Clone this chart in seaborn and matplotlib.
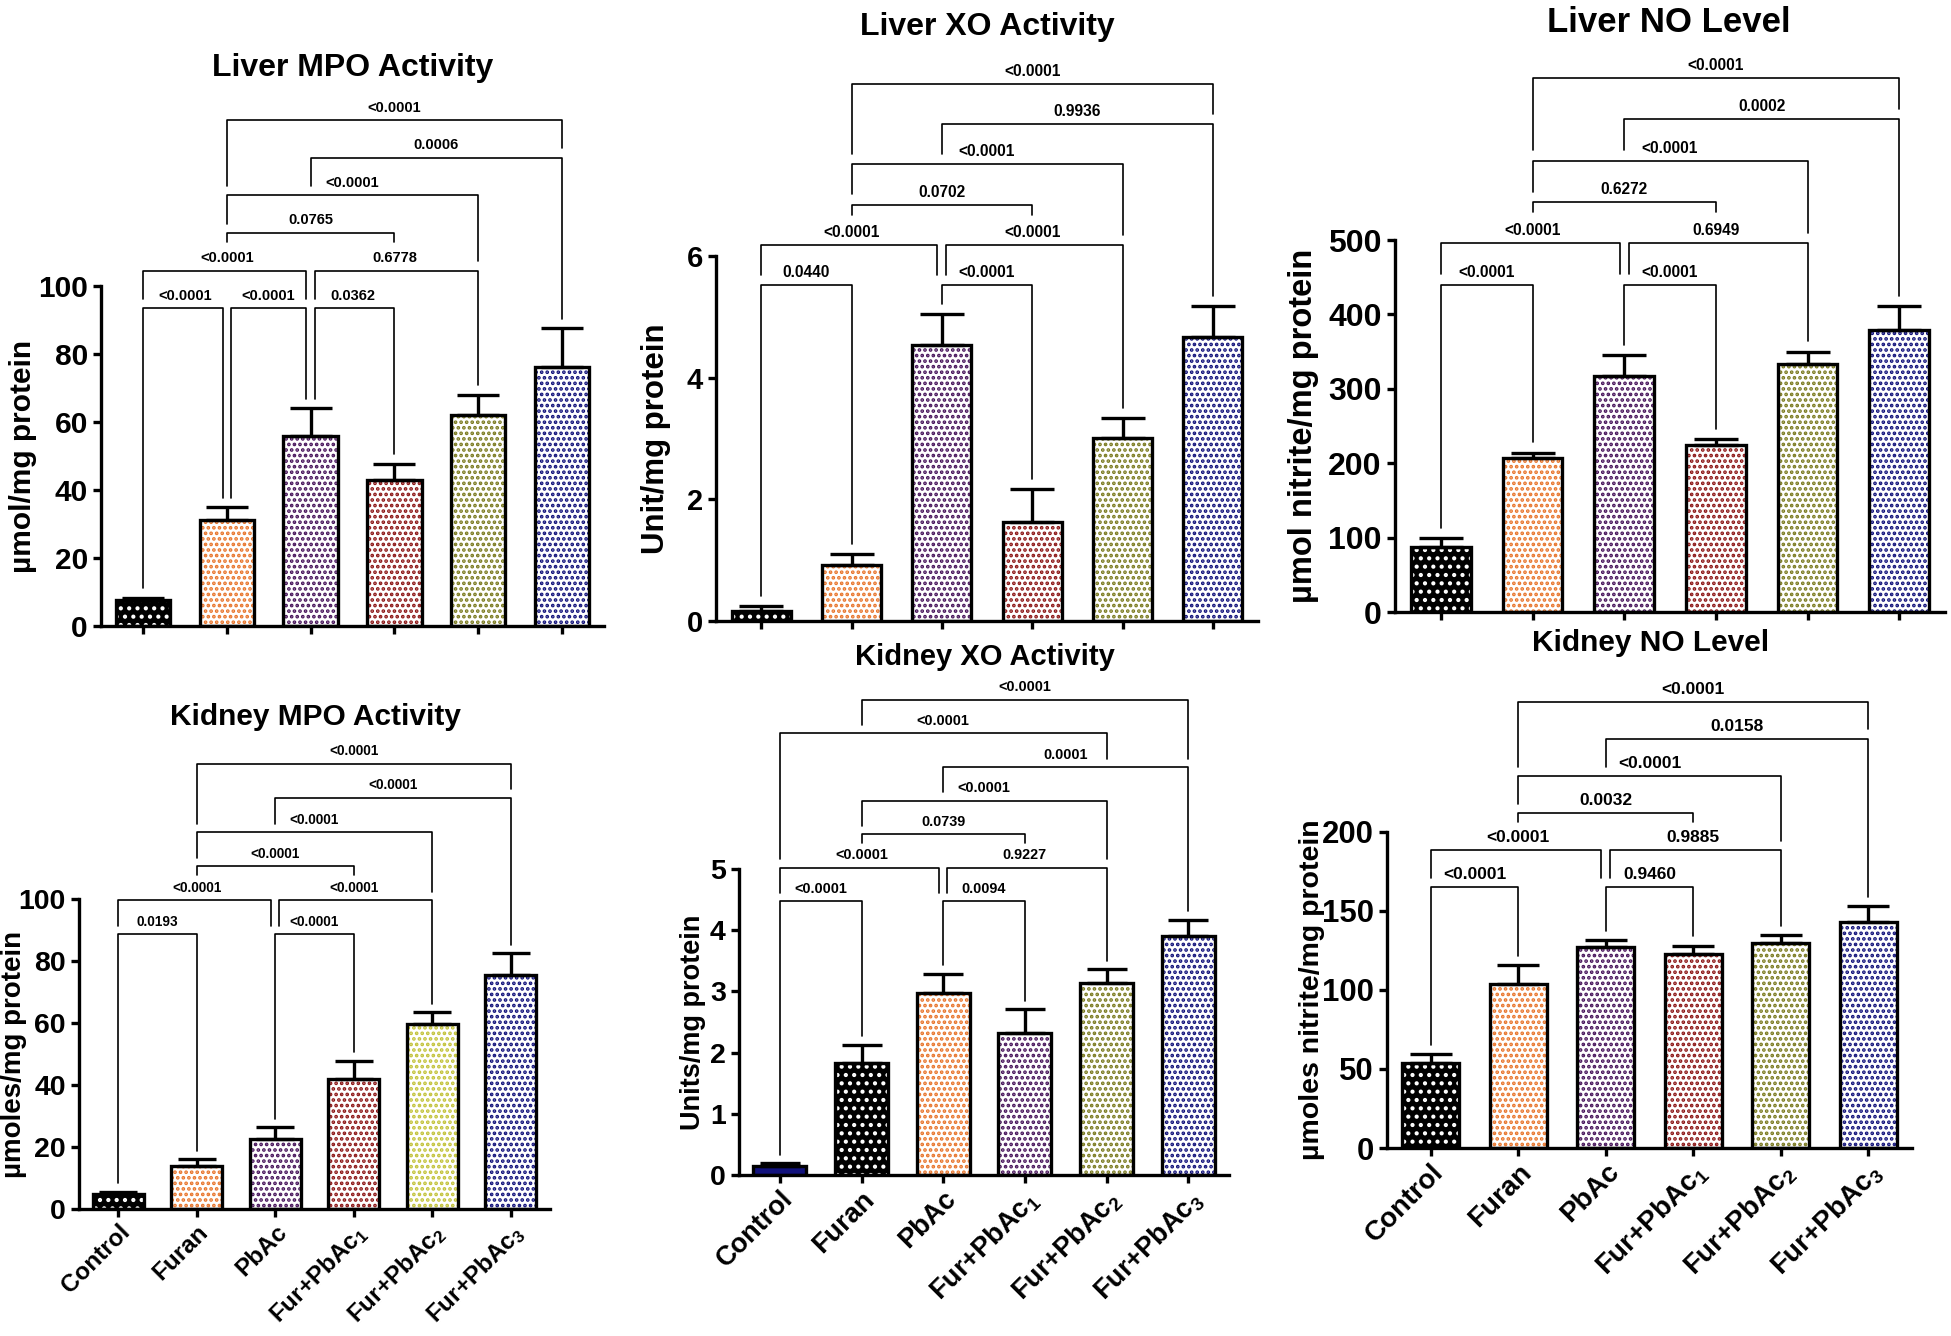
import numpy as np
import pandas as pd
import matplotlib
matplotlib.use("Agg")
import matplotlib.pyplot as plt
import seaborn as sns

# groups and their printed labels
groups = ["Control", "Furan", "PbAc", "Fur+PbAc1", "Fur+PbAc2", "Fur+PbAc3"]
tick_labels = ["Control", "Furan", "PbAc", "Fur+PbAc$_1$", "Fur+PbAc$_2$", "Fur+PbAc$_3$"]

# values (mean and SEM)
liver_mpo_mean = [7.7, 31.3, 56.0, 42.9, 62.1, 76.2]
liver_mpo_sem = [0.6, 3.7, 8.1, 4.8, 5.9, 11.4]
liver_xo_mean = [0.16, 0.92, 4.54, 1.63, 3.01, 4.67]
liver_xo_sem = [0.08, 0.18, 0.50, 0.54, 0.33, 0.50]
liver_no_mean = [87, 207, 317, 225, 333, 379]
liver_no_sem = [12, 7, 28, 7, 17, 32]
kidney_mpo_mean = [4.7, 14.0, 22.6, 41.8, 59.6, 75.4]
kidney_mpo_sem = [0.9, 2.0, 3.7, 6.1, 3.8, 7.1]
kidney_xo_mean = [0.15, 1.83, 2.97, 2.32, 3.13, 3.91]
kidney_xo_sem = [0.04, 0.30, 0.32, 0.39, 0.23, 0.26]
kidney_no_mean = [54.1, 103.8, 127.2, 123.0, 130.0, 143.2]
kidney_no_sem = [5.3, 11.8, 4.5, 5.0, 4.8, 10.0]

# multiple comparison p values
liver_mpo_tests = [("Control", "Furan", "<0.0001"), ("Furan", "PbAc", "<0.0001"),
                   ("PbAc", "Fur+PbAc1", "0.0362"), ("Control", "PbAc", "<0.0001"),
                   ("PbAc", "Fur+PbAc2", "0.6778"), ("Furan", "Fur+PbAc1", "0.0765"),
                   ("Furan", "Fur+PbAc2", "<0.0001"), ("PbAc", "Fur+PbAc3", "0.0006"),
                   ("Furan", "Fur+PbAc3", "<0.0001")]
liver_xo_tests = [("Control", "Furan", "0.0440"), ("PbAc", "Fur+PbAc1", "<0.0001"),
                  ("Control", "PbAc", "<0.0001"), ("PbAc", "Fur+PbAc2", "<0.0001"),
                  ("Furan", "Fur+PbAc1", "0.0702"), ("Furan", "Fur+PbAc2", "<0.0001"),
                  ("PbAc", "Fur+PbAc3", "0.9936"), ("Furan", "Fur+PbAc3", "<0.0001")]
liver_no_tests = [("Control", "Furan", "<0.0001"), ("PbAc", "Fur+PbAc1", "<0.0001"),
                  ("Control", "PbAc", "<0.0001"), ("PbAc", "Fur+PbAc2", "0.6949"),
                  ("Furan", "Fur+PbAc1", "0.6272"), ("Furan", "Fur+PbAc2", "<0.0001"),
                  ("PbAc", "Fur+PbAc3", "0.0002"), ("Furan", "Fur+PbAc3", "<0.0001")]
kidney_mpo_tests = [("Control", "Furan", "0.0193"), ("PbAc", "Fur+PbAc1", "<0.0001"),
                    ("Control", "PbAc", "<0.0001"), ("PbAc", "Fur+PbAc2", "<0.0001"),
                    ("Furan", "Fur+PbAc1", "<0.0001"), ("Furan", "Fur+PbAc2", "<0.0001"),
                    ("PbAc", "Fur+PbAc3", "<0.0001"), ("Furan", "Fur+PbAc3", "<0.0001")]
kidney_xo_tests = [("Control", "Furan", "<0.0001"), ("PbAc", "Fur+PbAc1", "0.0094"),
                   ("Control", "PbAc", "<0.0001"), ("PbAc", "Fur+PbAc2", "0.9227"),
                   ("Furan", "Fur+PbAc1", "0.0739"), ("Furan", "Fur+PbAc2", "<0.0001"),
                   ("PbAc", "Fur+PbAc3", "0.0001"), ("Control", "Fur+PbAc2", "<0.0001"),
                   ("Furan", "Fur+PbAc3", "<0.0001")]
kidney_no_tests = [("Control", "Furan", "<0.0001"), ("PbAc", "Fur+PbAc1", "0.9460"),
                   ("Control", "PbAc", "<0.0001"), ("PbAc", "Fur+PbAc2", "0.9885"),
                   ("Furan", "Fur+PbAc1", "0.0032"), ("Furan", "Fur+PbAc2", "<0.0001"),
                   ("PbAc", "Fur+PbAc3", "0.0158"), ("Furan", "Fur+PbAc3", "<0.0001")]

# bracket rows (stacking level of each comparison above)
rows_9 = [0, 0, 0, 1, 1, 2, 3, 4, 5]
rows_8 = [0, 0, 1, 1, 2, 3, 4, 5]
rows_kxo = [0, 0, 1, 1, 2, 3, 4, 5, 6]

# bar styles: (face, dot colour, hatch)
BLK = ("black", "white", "..")
ORA = ("white", "#e8742a", "...")
PUR = ("white", "#46125a", "...")
RED = ("white", "#8c1414", "...")
OLI = ("white", "#7a7a1e", "...")
YEL = ("white", "#c2c238", "...")
NAV = ("white", "#10107a", "...")
NAV_SOLID = ("#12127c", "#12127c", "")

W, H = 1951, 1336

sns.set_style("ticks")
plt.rcParams["font.family"] = ["Liberation Sans", "DejaVu Sans"]
plt.rcParams["font.weight"] = "bold"
plt.rcParams["mathtext.fontset"] = "custom"
plt.rcParams["mathtext.rm"] = "Liberation Sans:bold"
plt.rcParams["mathtext.bf"] = "Liberation Sans:bold"
plt.rcParams["mathtext.it"] = "Liberation Sans:bold"
plt.rcParams["mathtext.default"] = "bf"
plt.rcParams["hatch.linewidth"] = 1.8
plt.rcParams["axes.linewidth"] = 2.4
for key in ["axes.edgecolor", "text.color", "axes.labelcolor", "xtick.color", "ytick.color"]:
    plt.rcParams[key] = "black"

panels = [
    dict(title="Liver MPO Activity", ylabel="µmol/mg protein", mean=liver_mpo_mean, sem=liver_mpo_sem,
         tests=liver_mpo_tests, rows=rows_9, styles=[BLK, ORA, PUR, RED, OLI, NAV],
         box=(101, 286, 604, 626), title_xy=(353, 68), title_fs=23, tick_fs=21.5, ylab_fs=21.5,
         ylab_x=37, p_fs=10.5, ymax=100, ytick=20, base=93.5, step=11.05, xlab_fs=None),
    dict(title="Liver XO Activity", ylabel="Unit/mg protein", mean=liver_xo_mean, sem=liver_xo_sem,
         tests=liver_xo_tests, rows=rows_8, styles=[BLK, ORA, PUR, RED, OLI, NAV],
         box=(716, 256, 1258, 621), title_xy=(987, 27), title_fs=23, tick_fs=21, ylab_fs=22.5,
         ylab_x=671, p_fs=11.2, ymax=6, ytick=2, base=5.52, step=0.663, xlab_fs=None),
    dict(title="Liver NO Level", ylabel="µmol nitrite/mg protein", mean=liver_no_mean, sem=liver_no_sem,
         tests=liver_no_tests, rows=rows_8, styles=[BLK, ORA, PUR, RED, OLI, NAV],
         box=(1395, 240, 1945, 612), title_xy=(1669, 22), title_fs=25, tick_fs=23, ylab_fs=23.5,
         ylab_x=1319, p_fs=11.2, ymax=500, ytick=100, base=440, step=55.6, xlab_fs=None),
    dict(title="Kidney MPO Activity", ylabel="µmoles/mg protein", mean=kidney_mpo_mean, sem=kidney_mpo_sem,
         tests=kidney_mpo_tests, rows=rows_8, styles=[BLK, ORA, PUR, RED, YEL, NAV],
         box=(79, 899, 550, 1209), title_xy=(315, 717), title_fs=21.5, tick_fs=20.5, ylab_fs=20,
         ylab_x=27, p_fs=9.8, ymax=100, ytick=20, base=88.6, step=11.0, xlab_fs=17.5),
    dict(title="Kidney XO Activity", ylabel="Units/mg protein", mean=kidney_xo_mean, sem=kidney_xo_sem,
         tests=kidney_xo_tests, rows=rows_kxo, styles=[NAV_SOLID, BLK, ORA, PUR, OLI, NAV],
         box=(739, 869, 1229, 1175), title_xy=(985, 657), title_fs=21, tick_fs=20.5, ylab_fs=19.5,
         ylab_x=706, p_fs=10.4, ymax=5, ytick=1, base=4.47, step=0.549, xlab_fs=19.5),
    dict(title="Kidney NO Level", ylabel="µmoles nitrite/mg protein", mean=kidney_no_mean, sem=kidney_no_sem,
         tests=kidney_no_tests, rows=rows_8, styles=[BLK, ORA, PUR, RED, OLI, NAV],
         box=(1387, 832, 1912, 1148), title_xy=(1651, 643), title_fs=21.5, tick_fs=22.4, ylab_fs=20.5,
         ylab_x=1325, p_fs=12.5, ymax=200, ytick=50, base=165, step=23.5, xlab_fs=20),
]


def draw_brackets(ax, tops, tests, rows, base, step, fs):
    pos = {g: k for k, g in enumerate(groups)}
    spans = [(pos[a], pos[b], r) for (a, b, _), r in zip(tests, rows)]
    off = 0.05
    for (a, b, p), r in zip(tests, rows):
        i, j = pos[a], pos[b]
        y = base + r * step
        ends = []
        for k, sign in ((i, 1), (j, -1)):
            shared = any(rr == r and (ii, jj) != (i, j) and k in (ii, jj) for ii, jj, rr in spans)
            x = k + sign * off if shared else k
            lo = tops[k] + 0.25 * step
            for ii, jj, rr in spans:
                if rr < r and ii <= k <= jj:
                    # stop above the lower bracket, or above its p value label
                    clear = 0.75 if abs(k - (ii + jj) / 2) < 0.45 else 0.25
                    lo = max(lo, base + rr * step + clear * step)
            ends.append((x, min(lo, y)))
        (x1, e1), (x2, e2) = ends
        ax.plot([x1, x1, x2, x2], [e1, y, y, e2], color="black", lw=1.2, clip_on=False, zorder=4)
        ax.annotate(p, xy=((i + j) / 2, y), xytext=(0, 9), textcoords="offset points",
                    ha="center", va="center", fontsize=fs, fontweight="bold", annotation_clip=False)


fig = plt.figure(figsize=(W / 100, H / 100), dpi=100)

for pn in panels:
    left, top, right, bottom = pn["box"]
    ax = fig.add_axes([left / W, 1 - bottom / H, (right - left) / W, (bottom - top) / H])
    df = pd.DataFrame({"group": groups, "value": pn["mean"]})

    # dotted fill
    sns.barplot(data=df, x="group", y="value", order=groups, width=0.65, color="white",
                errorbar=None, linewidth=0, saturation=1, ax=ax)
    for patch, (face, dot, hatch) in zip(ax.patches, pn["styles"]):
        patch.set_facecolor(face)
        patch.set_edgecolor(dot)
        if hasattr(patch, "set_hatchcolor"):
            patch.set_hatchcolor(dot)
        patch.set_hatch(hatch)
        patch.set_linewidth(0)
    n0 = len(ax.patches)
    # black outline
    sns.barplot(data=df, x="group", y="value", order=groups, width=0.65, color="black",
                errorbar=None, linewidth=2.4, ax=ax)
    for patch in ax.patches[n0:]:
        patch.set_facecolor("none")
        patch.set_edgecolor("black")
        patch.set_linewidth(2.4)
        patch.set_zorder(2)

    spacing_px = (right - left) / 6
    cap = 0.245 * spacing_px * 72 / 100
    ax.errorbar(range(6), pn["mean"], yerr=[[0] * 6, pn["sem"]], fmt="none", ecolor="black",
                elinewidth=2.4, capsize=cap, capthick=2.4, zorder=3)

    ax.set_xlim(-0.5, 5.5)
    ax.set_ylim(0, pn["ymax"])
    ax.set_yticks(np.arange(0, pn["ymax"] + 1e-9, pn["ytick"]))
    sns.despine(ax=ax)
    ax.tick_params(axis="both", width=2.4, length=6, labelsize=pn["tick_fs"], color="black")
    ax.tick_params(axis="x", pad=2)
    for lab in ax.get_yticklabels():
        lab.set_fontweight("bold")
    ax.set_xlabel("")
    ax.set_xticks(range(6))
    if pn["xlab_fs"]:
        ax.set_xticklabels(tick_labels, rotation=45, ha="right", rotation_mode="anchor",
                           fontsize=pn["xlab_fs"], fontweight="bold")
    else:
        ax.set_xticklabels([])

    ax.set_ylabel(pn["ylabel"], fontsize=pn["ylab_fs"], fontweight="bold")
    ax.yaxis.set_label_coords((pn["ylab_x"] - left) / (right - left), 0.5)

    tops = [m + s for m, s in zip(pn["mean"], pn["sem"])]
    draw_brackets(ax, tops, pn["tests"], pn["rows"], pn["base"], pn["step"], pn["p_fs"])

    tx, ty = pn["title_xy"]
    fig.text(tx / W, 1 - ty / H, pn["title"], ha="center", va="center",
             fontsize=pn["title_fs"], fontweight="bold")

fig.savefig("out.png", dpi=100)
